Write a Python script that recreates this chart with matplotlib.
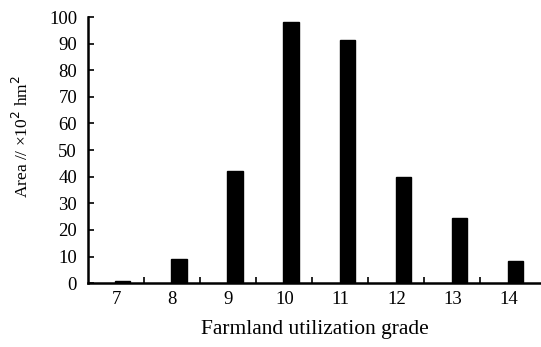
import matplotlib
matplotlib.use("Agg")
import matplotlib.pyplot as plt
import numpy as np
from matplotlib.ticker import FixedLocator

grades = ["7", "8", "9", "10", "11", "12", "13", "14"]
area = [0.8, 8.9, 42.3, 98.2, 91.4, 40.0, 24.3, 8.3]
yticks = [0, 10, 20, 30, 40, 50, 60, 70, 80, 90, 100]

plt.rcParams['font.family'] = ['Liberation Serif', 'DejaVu Serif']

fig = plt.figure(figsize=(5.41, 3.47), dpi=100)
ax = fig.add_axes([0.163, 0.184, 0.837, 0.767])

x = np.arange(len(grades))
ax.bar(x + 0.12, area, width=0.27, color='black', edgecolor='black')

ax.set_xlim(-0.5, len(grades) - 0.42)
ax.set_ylim(0, 100)
ax.set_yticks(yticks)
ax.set_xticks(x)
ax.set_xticklabels(grades)
ax.xaxis.set_minor_locator(FixedLocator(x[:-1] + 0.5))

for s in ['top', 'right']:
    ax.spines[s].set_visible(False)
for s in ['left', 'bottom']:
    ax.spines[s].set_linewidth(1.8)

ax.tick_params(axis='y', direction='in', length=4, width=1.2, labelsize=13.5, pad=8)
ax.tick_params(axis='x', which='major', length=0, labelsize=13.5, pad=6)
ax.tick_params(axis='x', which='minor', direction='in', length=4, width=1.2)

ax.set_xlabel("Farmland utilization grade", fontsize=15.5, labelpad=8)
ax.set_ylabel("Area // \u00d710$^2$ hm$^2$", fontsize=12.5, labelpad=8)
ax.yaxis.set_label_coords(-0.125, 0.55)

fig.savefig("out.png", dpi=100)
